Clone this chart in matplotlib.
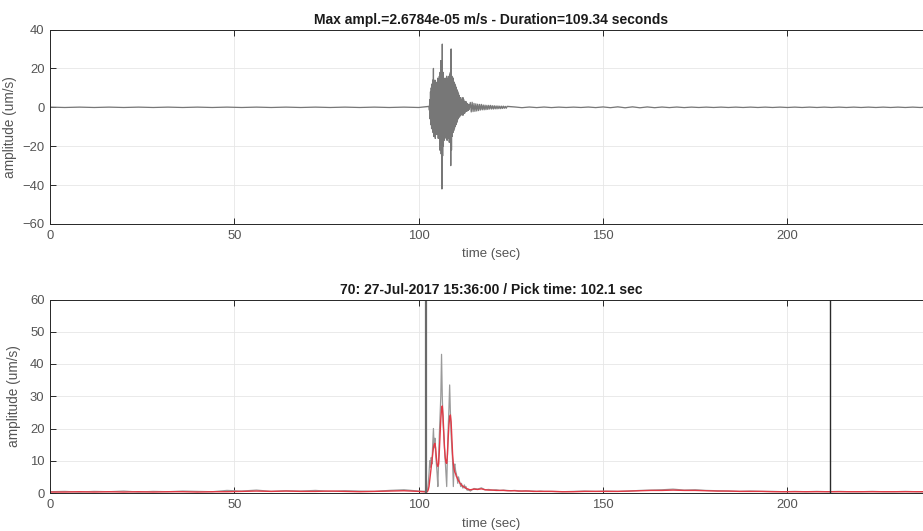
import numpy as np
import matplotlib
matplotlib.use("Agg")
import matplotlib.pyplot as plt

plt.rcParams['font.family'] = ['Liberation Sans', 'DejaVu Sans']

# ---- waveform (um/s) ----
# quiet part before the event, one sample every 4 s (0..100 s)
wave_pre = [0.1, -0.1, 0.1, -0.1, 0.1, -0.1, 0.1, -0.1, 0.1, -0.1, 0.1, -0.1, 0.1,
            -0.1, 0.1, -0.1, 0.1, -0.1, 0.1, -0.1, 0.1, -0.1, 0.1, -0.1, 0.1, -0.1]
# main burst, 0.1 s samples starting at 102.8 s
wave_burst = [
    0.5, -1.5, 4, -6, 8, -9, 10, -11, 12, -10,
    14, -13, 20, -15, 13, -12, 14, -16, 12, -13,
    11, -14, 13, -12, 15, -16, 12, -14, 16, -22,
    18, -20, 24, -24, 20, -42, 32.5, -25, 18, -20,
    15, -17, 14, -16, 15, -14, 13, -15, 16, -17,
    14, -16, 15, -14, 16, -18, 17, -15, 18, -30,
    30, -22, 16, -15, 14, -13, 15, -12, 13, -11,
    12, -10, 11, -9, 10, -8, 9, -7, 8, -6,
    7, -5, 6, -5, 5, -4, 5, -4, 4, -3,
    4, -4, 5, -4, 4, -3, 3, -3, 3, -2,
    3, -2, 2, -2, 2, -1.5, 1.5, -1.5, 1.5, -1,
]
# coda, 0.25 s samples from 114 s
wave_coda = [2.5, -2.4, 2.6, -2.2, 2.0, -2.1, 1.8, -1.9, 1.6, -1.7, 1.5,
             -1.4, 1.5, -1.3, 1.2, -1.3, 1.1, -1.2, 1.0, -1.1, 1.0, -0.9,
             1.0, -0.9, 0.8, -0.9, 0.8, -0.8, 0.7, -0.8, 0.7, -0.7, 0.6,
             -0.7, 0.6, -0.6, 0.6, -0.5, 0.5, -0.5, 0.5]
# tail, 2 s samples from 126 s
wave_post = [0.2, -0.2, 0.15, -0.15, 0.15, -0.15, 0.1, -0.1, 0.1, -0.1, 0.15, -0.15,
             0.2, -0.2, 0.25, -0.25, 0.25, -0.25, 0.2, -0.2, 0.15, -0.15, 0.15, -0.15,
             0.1, -0.1, 0.1, -0.1, 0.1, -0.1, 0.1, -0.1, 0.1, -0.1, 0.1, -0.1,
             0.1, -0.1, 0.1, -0.1, 0.1, -0.1, 0.1, -0.1, 0.1, -0.1, 0.1, -0.1,
             0.1, -0.1, 0.1, -0.1, 0.1, -0.1, 0.1, -0.1, 0.1]

# ---- absolute amplitude (gray) and smoothed envelope (red) ----
# one sample every 4 s (0..100 s)
abs_pre = [0.4, 0.5, 0.3, 0.5, 0.4, 0.6, 0.3, 0.5, 0.4, 0.6, 0.5, 0.4, 0.8,
           0.6, 0.9, 0.5, 0.7, 0.6, 0.8, 0.5, 0.7, 0.6, 0.5, 0.8, 1.0, 0.6]
env_pre = [0.3, 0.3, 0.4, 0.3, 0.4, 0.3, 0.4, 0.3, 0.4, 0.4, 0.3, 0.4, 0.4,
           0.5, 0.6, 0.5, 0.6, 0.5, 0.5, 0.6, 0.5, 0.4, 0.5, 0.6, 0.7, 0.5]
# 0.2 s samples starting at 102.2 s
abs_burst = [
    0.5, 1, 3, 6, 10,
    8, 11, 9, 15, 20,
    14, 17, 12, 9, 6,
    2, 10, 18, 24, 30,
    43, 30, 22, 18, 14,
    10, 6, 2, 12, 20,
    26, 33.5, 25, 18, 14,
    10, 2, 8, 9, 7,
    6, 5, 3, 5, 4,
    3, 2, 3, 2, 1.5,
    2, 2.5, 1.5, 2, 1,
    1, 0.8, 1.2, 0.8, 0.6,
]
env_burst = [
    0.3, 0.5, 1, 2, 4,
    6, 8, 10, 12, 14,
    15, 15.4, 14, 11, 9,
    8.2, 9, 13, 18, 23,
    26, 27, 24, 19, 14,
    11, 9.5, 9.2, 12, 17,
    21, 23.5, 24.2, 22, 17,
    12, 9, 7.5, 6.5, 6,
    5.2, 4.8, 4.2, 3.8, 3.5,
    3, 2.8, 2.5, 2.3, 2,
    2, 1.8, 1.6, 1.5, 1.4,
    1.3, 1.2, 1.1, 1.0, 1.0,
]
# 1 s samples from 115 s
abs_coda = [1.4, 1.2, 1.6, 1.0, 1.1, 0.9, 1.0, 0.8, 0.9, 0.8, 0.7, 0.8, 0.7,
            0.6, 0.7, 0.6, 0.6, 0.5, 0.6, 0.5]
env_coda = [1.2, 1.1, 1.3, 1.0, 0.9, 0.9, 0.8, 0.8, 0.8, 0.7, 0.7, 0.7, 0.6,
            0.6, 0.6, 0.6, 0.5, 0.5, 0.5, 0.5]
# 3 s samples from 136 s
abs_post = [0.5, 0.4, 0.5, 0.6, 0.5, 0.6, 0.5, 0.6, 0.8, 0.9, 1.0, 1.2, 0.9,
            1.0, 0.8, 0.7, 0.6, 0.5, 0.6, 0.5, 0.5, 0.4, 0.5, 0.4, 0.5, 0.4,
            0.5, 0.4, 0.4, 0.5, 0.4, 0.4, 0.5, 0.4, 0.4]
env_post = [0.5, 0.4, 0.4, 0.5, 0.5, 0.5, 0.5, 0.6, 0.7, 0.8, 0.8, 0.9, 0.8,
            0.8, 0.7, 0.6, 0.6, 0.5, 0.5, 0.5, 0.4, 0.4, 0.4, 0.4, 0.4, 0.4,
            0.4, 0.4, 0.4, 0.4, 0.4, 0.4, 0.4, 0.4, 0.4]

pick_time = 102.1
duration = 109.34
max_ampl = 2.6784e-05
event_label = "70: 27-Jul-2017 15:36:00"

# sample times of each segment
t_pre = np.arange(len(wave_pre)) * 4.0
t_wave_burst = 102.8 + np.arange(len(wave_burst)) * 0.1
t_wave_coda = 114.0 + np.arange(len(wave_coda)) * 0.25
t_wave_post = 126.0 + np.arange(len(wave_post)) * 2.0
t_env_burst = 102.2 + np.arange(len(abs_burst)) * 0.2
t_env_coda = 115.0 + np.arange(len(abs_coda)) * 1.0
t_env_post = 136.0 + np.arange(len(abs_post)) * 3.0

t_wave = np.concatenate([t_pre, t_wave_burst, t_wave_coda, t_wave_post])
y_wave = np.concatenate([wave_pre, wave_burst, wave_coda, wave_post])
t_env = np.concatenate([t_pre, t_env_burst, t_env_coda, t_env_post])
y_abs = np.concatenate([abs_pre, abs_burst, abs_coda, abs_post])
y_env = np.concatenate([env_pre, env_burst, env_coda, env_post])

W, H = 923, 531
fig = plt.figure(figsize=(W / 100, H / 100), dpi=100)

x_max = 239.5
left = 50 / W
width = (933 - 50) / W
ax1 = fig.add_axes([left, 1 - 224 / H, width, (224 - 29.5) / H])
ax2 = fig.add_axes([left, 1 - 493 / H, width, (493 - 299.5) / H])

spine_col = '#262626'
tick_col = '#555555'
grid_col = '#e6e6e6'


def style(ax, ylabel_x):
    ax.set_xlim(0, x_max)
    ax.set_xticks([0, 50, 100, 150, 200])
    ax.grid(True, color=grid_col, linewidth=0.6)
    ax.set_axisbelow(True)
    for s in ax.spines.values():
        s.set_color(spine_col)
        s.set_linewidth(0.7)
    ax.tick_params(direction='in', top=True, right=True, length=4, width=0.7,
                   colors=spine_col, labelcolor=tick_col, labelsize=9.4, pad=4)
    ax.set_xlabel('time (sec)', fontsize=9.5, color=tick_col, labelpad=5)
    ax.set_ylabel('amplitude (um/s)', fontsize=9.8, color=tick_col)
    ax.yaxis.set_label_coords(ylabel_x, 0.5)


# top: raw velocity trace
ax1.plot(t_wave, y_wave, color='#777777', linewidth=0.9)
ax1.set_ylim(-60, 40)
ax1.set_yticks([-60, -40, -20, 0, 20, 40])
style(ax1, (17 - 50) / 883)
ax1.set_title(f"Max ampl.={max_ampl:.4e} m/s - Duration={duration:.2f} seconds",
              fontsize=10, fontweight='bold', color='#1a1a1a', pad=4)

# bottom: absolute amplitude, smoothed envelope and pick window
ax2.plot(t_env, y_abs, color='#9a9a9a', linewidth=0.9)
ax2.plot(t_env, y_env, color='#e23a46', linewidth=1.0)
ax2.axvline(pick_time, color='#6a6a6a', linewidth=1.6)
ax2.axvline(pick_time + duration, color='#2a2a2a', linewidth=1.0)
ax2.set_ylim(0, 60)
ax2.set_yticks([0, 10, 20, 30, 40, 50, 60])
style(ax2, (21 - 50) / 883)
ax2.set_title(f"{event_label} / Pick time: {pick_time:.1f} sec",
              fontsize=10, fontweight='bold', color='#1a1a1a', pad=4)

fig.savefig('out.png', dpi=100)
